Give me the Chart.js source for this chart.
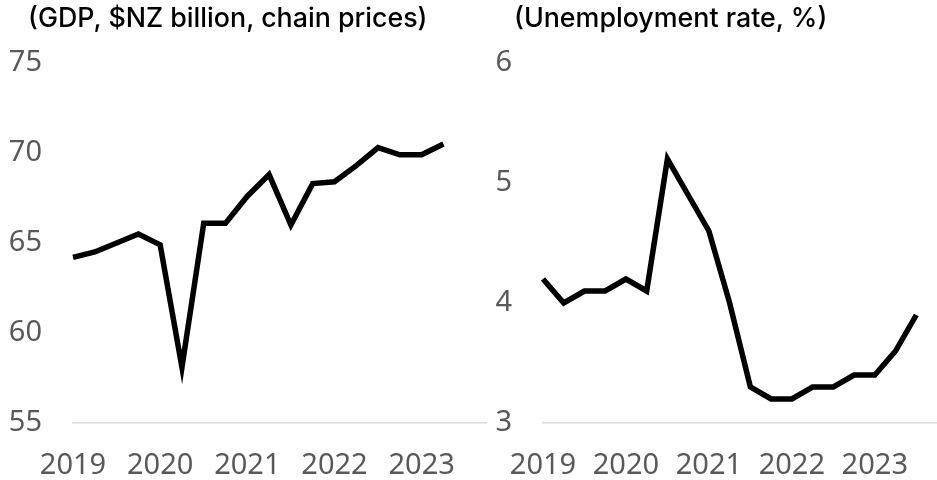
<!DOCTYPE html>
<html>
<head>
<meta charset="utf-8">
<script src="https://cdn.jsdelivr.net/npm/chart.js@4/dist/chart.umd.min.js"></script>
<style>
  html, body { margin: 0; padding: 0; background: #fff; overflow: hidden; }
  #wrap { position: relative; width: 937px; height: 480px; overflow: hidden; }
  canvas { position: absolute; top: 0; display: block; }
  .title {
    position: absolute; top: 1px; white-space: nowrap;
    font-family: Inter, "Noto Sans", sans-serif; font-size: 26.8px; font-weight: 500; color: #000;
  }
</style>
</head>
<body>
<div id="wrap">
  <canvas id="gdpChart" width="487" height="480" style="left:0"></canvas>
  <canvas id="unempChart" width="447" height="480" style="left:490px"></canvas>
  <div class="title" style="left:28px">(GDP, $NZ billion, chain prices)</div>
  <div class="title" style="left:514px">(Unemployment rate, %)</div>
</div>
<script>
    // Quarterly categories, 2019 Q1 to 2023 Q4
    const quarters = [
        '2019 Q1', '2019 Q2', '2019 Q3', '2019 Q4',
        '2020 Q1', '2020 Q2', '2020 Q3', '2020 Q4',
        '2021 Q1', '2021 Q2', '2021 Q3', '2021 Q4',
        '2022 Q1', '2022 Q2', '2022 Q3', '2022 Q4',
        '2023 Q1', '2023 Q2', '2023 Q3', '2023 Q4'
    ];

    // GDP, $NZ billion, chain prices
    const gdpValues = [
        64.2, 64.5, 65.0, 65.5,
        64.9, 58.1, 66.1, 66.1,
        67.6, 68.8, 66.0, 68.3,
        68.4, 69.3, 70.3, 69.9,
        69.9, 70.5, null, null
    ];

    // Unemployment rate, %
    const unempValues = [
        4.2, 4.0, 4.1, 4.1,
        4.2, 4.1, 5.2, 4.9,
        4.6, 4.0, 3.3, 3.2,
        3.2, 3.3, 3.3, 3.4,
        3.4, 3.6, 3.9, null
    ];

    const gdpTicks = [55, 60, 65, 70, 75];
    const unempTicks = [3, 4, 5, 6];

    const tickFont = { family: '"Noto Sans", sans-serif', size: 29 };
    const tickColor = '#595959';

    function buildChart(canvasId, values, yTicks, axisWidth) {
        const ctx = document.getElementById(canvasId);
        return new Chart(ctx, {
            type: 'line',
            data: {
                labels: quarters,
                datasets: [{
                    data: values,
                    borderColor: '#000',
                    borderWidth: 5.5,
                    pointRadius: 0,
                    tension: 0,
                    fill: false
                }]
            },
            options: {
                responsive: false,
                animation: false,
                devicePixelRatio: 1,
                layout: { padding: { top: 63, right: 0, bottom: 0, left: 0 } },
                plugins: {
                    legend: { display: false },
                    tooltip: { enabled: false }
                },
                scales: {
                    x: {
                        offset: false,
                        afterFit: function(scale) {
                            // keep the axis tight: labels sit below the baseline, no side padding
                            scale.height = 57;
                            scale.paddingLeft = 0;
                            scale.paddingRight = 0;
                        },
                        grid: { display: false, drawTicks: false },
                        border: { display: true, color: '#d9d9d9', width: 1.5 },
                        ticks: {
                            autoSkip: false,
                            maxRotation: 0,
                            padding: 25,
                            color: tickColor,
                            font: tickFont,
                            callback: function(value, index) {
                                const label = quarters[index];
                                return label.endsWith('Q1') ? label.slice(0, 4) : '';
                            }
                        }
                    },
                    y: {
                        min: yTicks[0],
                        max: yTicks[yTicks.length - 1],
                        afterBuildTicks: function(scale) {
                            scale.ticks = yTicks.map(v => ({ value: v }));
                        },
                        afterFit: function(scale) {
                            scale.width = axisWidth;
                            scale.paddingBottom = 0;
                        },
                        grid: { display: false, drawTicks: false },
                        border: { display: false },
                        ticks: {
                            padding: 31,
                            color: tickColor,
                            font: tickFont
                        }
                    }
                }
            }
        });
    }

    buildChart('gdpChart', gdpValues, gdpTicks, 73);
    buildChart('unempChart', unempValues, unempTicks, 53);
</script>
</body>
</html>
